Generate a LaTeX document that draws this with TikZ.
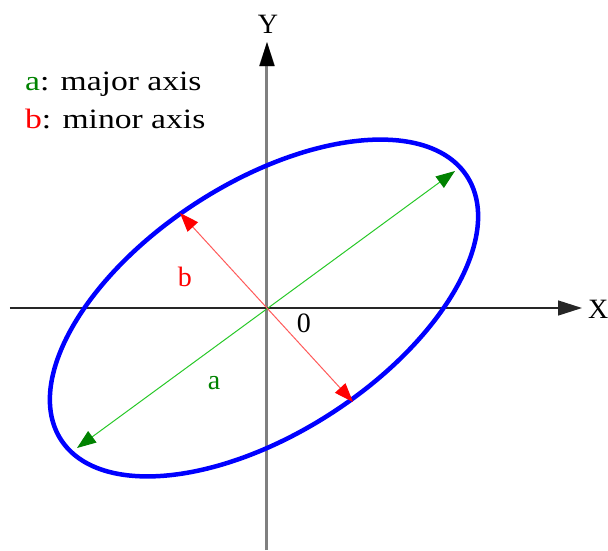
\documentclass[tikz,border=0pt]{standalone}
\usepackage{fontspec}
\setmainfont{Liberation Serif}
\newfontfamily\legendfont[FakeStretch=1.2]{Liberation Serif}
\usetikzlibrary{arrows.meta, positioning}
\definecolor{majorgreen}{RGB}{40,200,40}
\definecolor{headgreen}{RGB}{0,130,0}
\definecolor{minorred}{RGB}{255,90,90}
\definecolor{axisgray}{RGB}{128,128,128}

\begin{document}
\begin{tikzpicture}[x=1pt, y=1pt, >=Stealth,
    axisarrow/.style={-{Triangle[length=24pt, width=15pt]}},
    majorarrow/.style={{Triangle[length=19pt, width=14pt, color=headgreen]}-{Triangle[length=19pt, width=14pt, color=headgreen]}, majorgreen, line width=1pt},
    minorarrow/.style={{Triangle[length=19pt, width=14pt, color=red]}-{Triangle[length=19pt, width=14pt, color=red]}, minorred, line width=1pt},
    lbl/.style={font=\fontsize{28}{32}\selectfont, inner sep=0pt}]
  \useasboundingbox (-267,-242) rectangle (341,308);
  \coordinate (O) at (0,0);
  \coordinate (E) at (-3,0);
  % Axes
  \coordinate (xstart) at (-257,0);
  \coordinate (xend) at (315,0);
  \coordinate (ystart) at (0,-242);
  \coordinate (yend) at (0,266);
  \draw[axisarrow, axisgray, line width=3pt] (ystart) -- (yend);
  \fill[black] (0,266) -- (-7.5,242) -- (7.5,242) -- cycle;
  \draw[axisarrow, black!85, line width=1.5pt] (xstart) -- (xend);
  \node[lbl, anchor=south] (ylabel) at (1,274) {Y};
  \node[lbl, anchor=west] (xlabel) at (321,-1) {X};
  % Ellipse
  \draw[blue, line width=4.5pt, rotate around={33:(E)}] (E) ellipse [x radius=242, y radius=125];
  % Major and minor axes
  \coordinate (majA) at (188,137);
  \coordinate (majB) at (-190,-140);
  \coordinate (minA) at (-87,95);
  \coordinate (minB) at (86,-94);
  \draw[majorarrow] (majB) -- (majA);
  \draw[minorarrow] (minA) -- (minB);
  \node[lbl, red] (blabel) at (-82,31) {b};
  \node[lbl, headgreen] (alabel) at (-53,-75) {a};
  \node[lbl] (zero) at (37,-15) {0};
  % Legend
  \node[lbl, anchor=base west, font=\fontsize{28}{32}\legendfont] (legA) at (-242,218) {\textcolor{headgreen}{a}: major axis};
  \node[lbl, anchor=base west, font=\fontsize{28}{32}\legendfont] (legB) at (-242,180) {\textcolor{red}{b}: minor axis};
\end{tikzpicture}
\end{document}
